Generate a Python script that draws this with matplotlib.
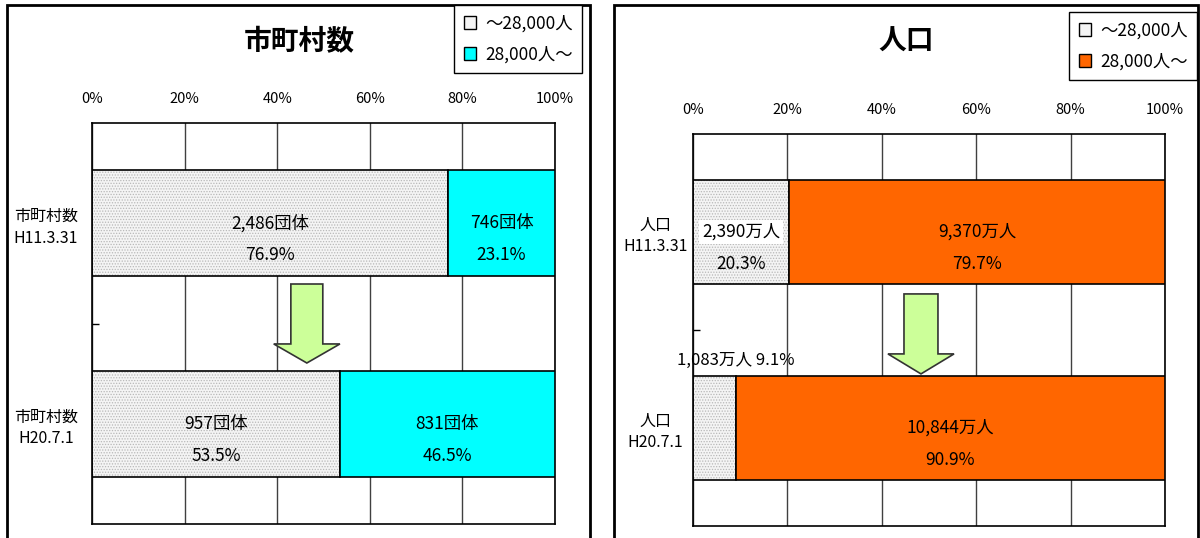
"""
Two stacked 100% bar panels: municipalities and population,
split at 28,000 people (H11.3.31 vs H20.7.1).
"""

import matplotlib
matplotlib.use('Agg')
import matplotlib.pyplot as plt
from matplotlib.patches import Rectangle, FancyArrow, Patch

plt.rcParams['font.family'] = ['Noto Sans CJK JP', 'DejaVu Sans']
plt.rcParams['hatch.linewidth'] = 0.6

# ---------------------------------------------------------------------------
# Data
# ---------------------------------------------------------------------------
muni_cats = ['市町村数\nH11.3.31', '市町村数\nH20.7.1']
muni_small_pct = [76.9, 53.5]
muni_large_pct = [23.1, 46.5]
muni_small_cnt = ['2,486団体', '957団体']
muni_large_cnt = ['746団体', '831団体']

pop_cats = ['人口\nH11.3.31', '人口\nH20.7.1']
pop_small_pct = [20.3, 9.1]
pop_large_pct = [79.7, 90.9]
pop_small_cnt = ['2,390万人', '1,083万人']
pop_large_cnt = ['9,370万人', '10,844万人']

legend_labels = ['～28,000人', '28,000人～']
x_ticks = [0, 20, 40, 60, 80, 100]

SMALL_FACE = '#f4f4f4'
SMALL_DOT = '#b8b8b8'

W, H = 1200, 538
fig = plt.figure(figsize=(W / 100, H / 100), dpi=100)


def fig_rect(x0, y0, x1, y1):
    """pixel box (top-left origin) -> figure fraction rect"""
    return [x0 / W, 1 - y1 / H, (x1 - x0) / W, (y1 - y0) / H]


# panel frames
for x0, x1 in [(7, 590), (614, 1198)]:
    fig.patches.append(Rectangle((x0 / W, -0.05), (x1 - x0) / W, 1 - 5 / H + 0.05,
                                 transform=fig.transFigure, fill=False,
                                 edgecolor='black', linewidth=2))


def draw_panel(ax, cats, small_pct, large_pct, color, label_x):
    y = [0.5, 1.5]
    h = 0.53
    ax.barh(y, small_pct, height=h, color=SMALL_FACE, edgecolor=SMALL_DOT,
            hatch='......', linewidth=0, zorder=2)
    ax.barh(y, small_pct, height=h, fill=False, edgecolor='black', linewidth=1.2, zorder=3)
    ax.barh(y, large_pct, left=small_pct, height=h, color=color,
            edgecolor='black', linewidth=1.2, zorder=3)

    ax.set_xlim(0, 100)
    ax.set_ylim(2, 0)
    ax.xaxis.tick_top()
    ax.set_xticks(x_ticks, [f'{t}%' for t in x_ticks])
    ax.tick_params(axis='x', length=0, pad=12, labelsize=10.5)
    ax.set_yticks([])
    ax.set_yticks([1], minor=True)
    ax.tick_params(axis='y', which='minor', length=5, direction='in', width=1)
    for yy, cat in zip(y, cats):
        ax.text(label_x, yy + 0.02, cat, transform=ax.get_yaxis_transform(),
                ha='center', va='center', fontsize=11.5, linespacing=1.35,
                multialignment='center')
    ax.grid(axis='x', color='#404040', linewidth=1, zorder=0)
    for s in ax.spines.values():
        s.set_color('black')
        s.set_linewidth(1.2)


def add_labels(ax, idx, x, count, pct, bbox=None):
    ax.annotate(count, (x, idx + 0.5), ha='center', va='center', fontsize=12.5,
                zorder=5, bbox=bbox)
    ax.annotate(pct, (x, idx + 0.5), xytext=(0, -23), textcoords='offset points',
                ha='center', va='center', fontsize=12.5, zorder=5)


def add_legend(color, anchor):
    handles = [Patch(facecolor=SMALL_FACE, edgecolor='black', linewidth=1),
               Patch(facecolor=color, edgecolor='black', linewidth=1)]
    fig.legend(handles, legend_labels, loc='upper right', bbox_to_anchor=anchor,
               borderaxespad=0, fontsize=12.5, handlelength=0.7, handleheight=0.7,
               handletextpad=0.5, labelspacing=0.75, fancybox=False, framealpha=1,
               edgecolor='black', borderpad=0.55)


# ---------------------------------------------------------------------------
# Left: number of municipalities
# ---------------------------------------------------------------------------
ax1 = fig.add_axes(fig_rect(92, 123, 555, 524))
draw_panel(ax1, muni_cats, muni_small_pct, muni_large_pct, '#00ffff', -0.1)
for i in range(2):
    add_labels(ax1, i, muni_small_pct[i] / 2, muni_small_cnt[i], f'{muni_small_pct[i]}%')
    add_labels(ax1, i, muni_small_pct[i] + muni_large_pct[i] / 2,
               muni_large_cnt[i], f'{muni_large_pct[i]}%')
ax1.add_patch(FancyArrow(46.4, 0.803, 0, 0.394, width=6.9, head_width=14.3,
                         head_length=0.095, length_includes_head=True,
                         facecolor='#ccff99', edgecolor='#333333', linewidth=1.2, zorder=4))
fig.text(299 / W, 1 - 42 / H, '市町村数', ha='center', va='center',
         fontsize=20, fontweight='bold')
add_legend('#00ffff', (582 / W, 1 - 5 / H))

# ---------------------------------------------------------------------------
# Right: population
# ---------------------------------------------------------------------------
ax2 = fig.add_axes(fig_rect(693, 134, 1165, 526))
draw_panel(ax2, pop_cats, pop_small_pct, pop_large_pct, '#ff6600', -0.08)
add_labels(ax2, 0, pop_small_pct[0] / 2, pop_small_cnt[0], f'{pop_small_pct[0]}%',
           bbox=dict(facecolor='white', edgecolor='none', pad=2))
for i in range(2):
    add_labels(ax2, i, pop_small_pct[i] + pop_large_pct[i] / 2,
               pop_large_cnt[i], f'{pop_large_pct[i]}%')
ax2.annotate(f'{pop_small_cnt[1]} {pop_small_pct[1]}%', (pop_small_pct[1], 1.5 - 0.268),
             xytext=(0, 11), textcoords='offset points', ha='center', va='center',
             fontsize=12, zorder=5, annotation_clip=False)
ax2.add_patch(FancyArrow(48.3, 0.816, 0, 0.408, width=7.2, head_width=14.0,
                         head_length=0.102, length_includes_head=True,
                         facecolor='#ccff99', edgecolor='#333333', linewidth=1.2, zorder=4))
fig.text(906 / W, 1 - 42 / H, '人口', ha='center', va='center',
         fontsize=20, fontweight='bold')
add_legend('#ff6600', (1197 / W, 1 - 12 / H))

fig.savefig('out.png', dpi=100, facecolor='white')
